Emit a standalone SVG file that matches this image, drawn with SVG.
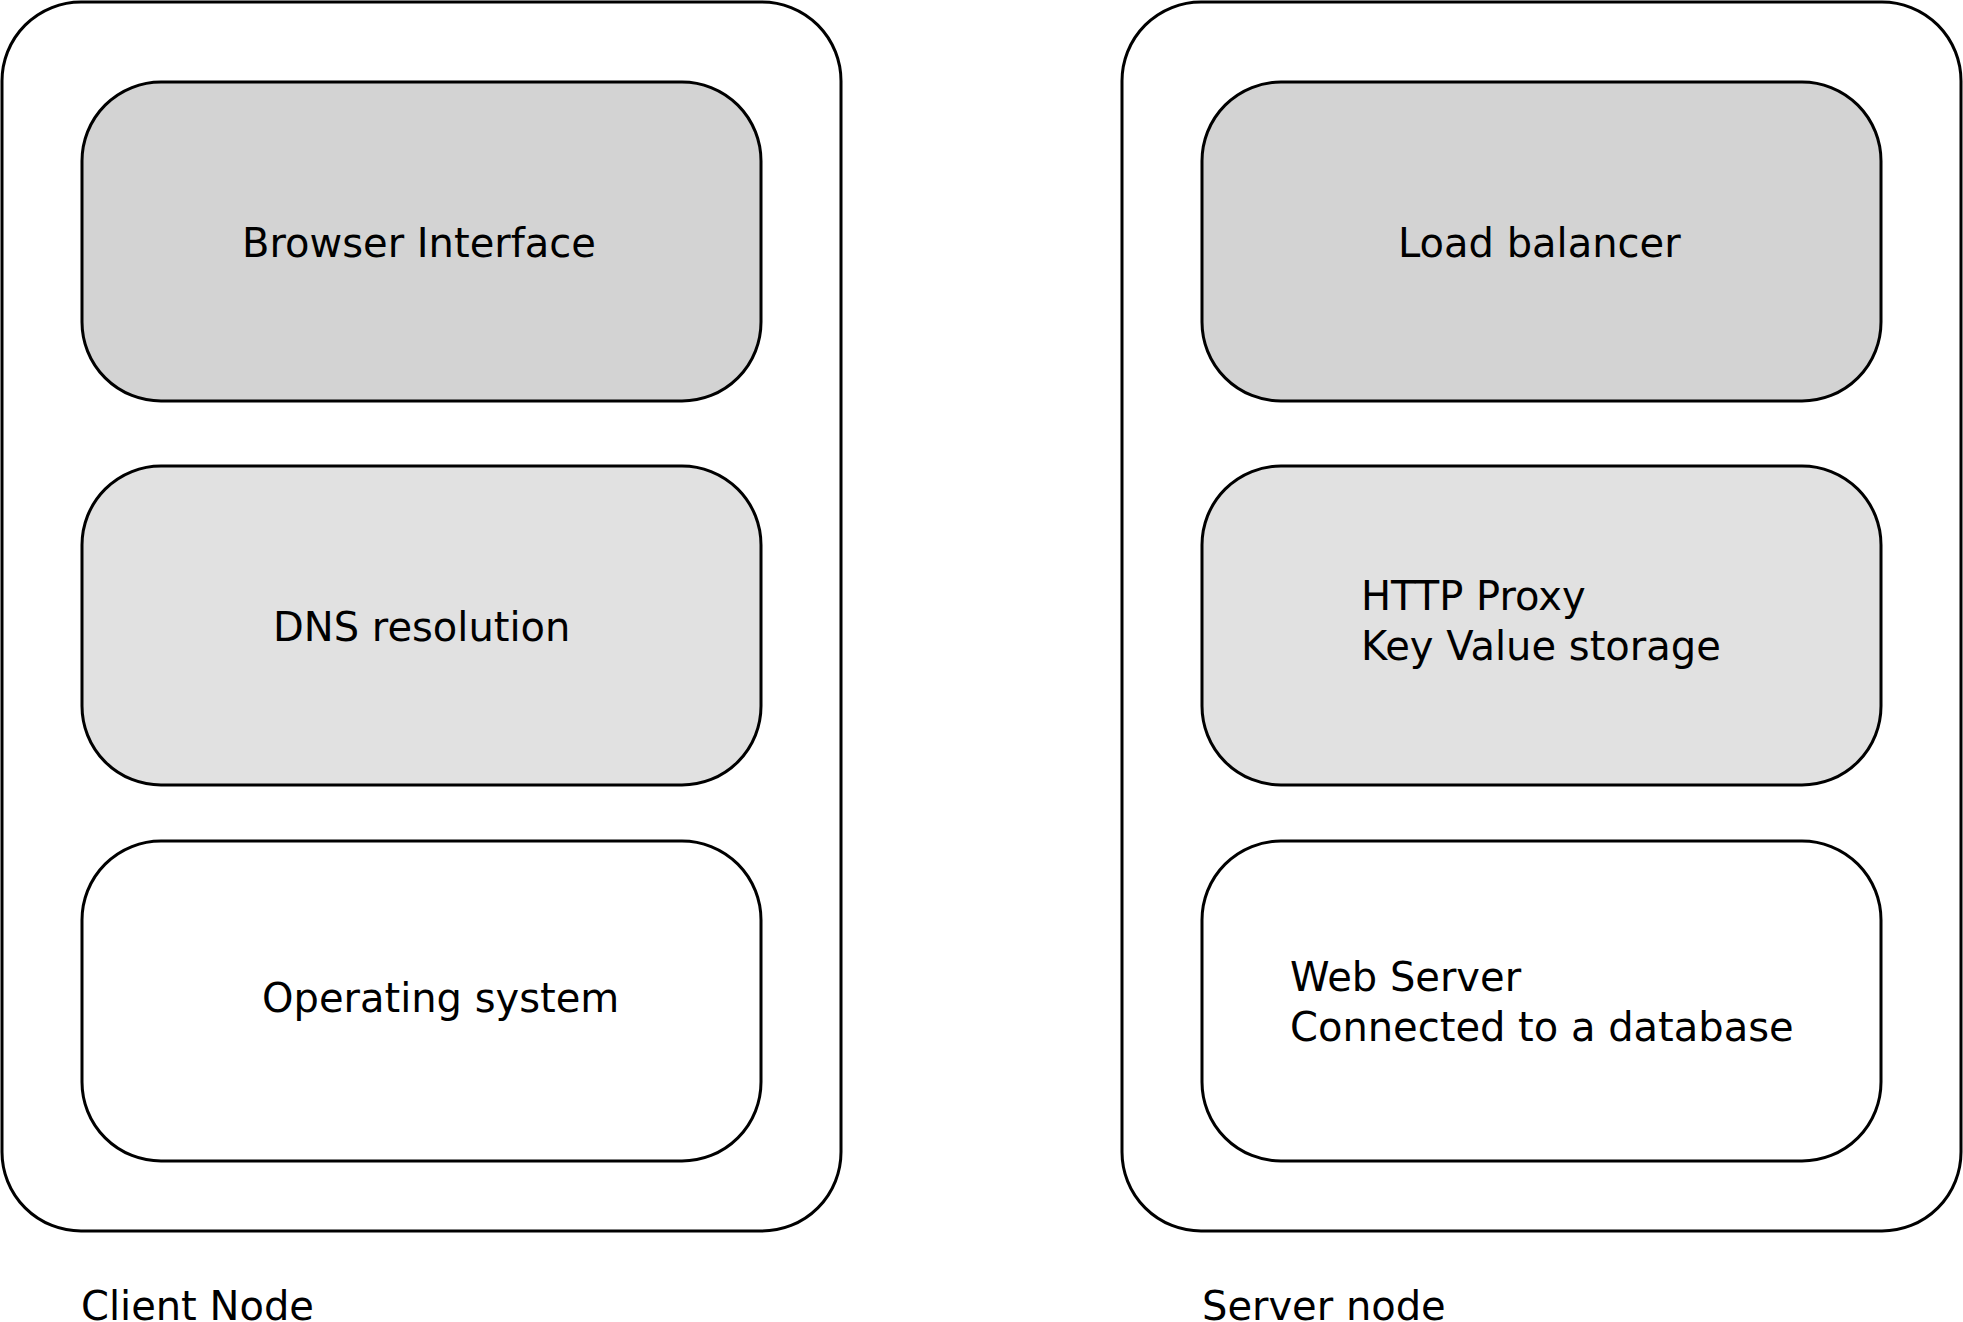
<svg xmlns="http://www.w3.org/2000/svg" width="1963" height="1322" viewBox="0 0 1963 1322">
<style>
.outer{fill:#ffffff;stroke:#000000;stroke-width:3}
.box{stroke:#000000;stroke-width:3}
.l1{fill:#d3d3d3}
.l2{fill:#e1e1e1}
.l3{fill:#ffffff}
text{font-family:"DejaVu Sans","Liberation Sans",sans-serif;font-size:40px;fill:#000000}
</style>
<rect width="1963" height="1322" fill="#ffffff"/>
<g id="client-node">
<rect class="outer" x="2" y="2" width="839" height="1229" rx="79" ry="79"/>
<text x="81" y="1320">Client Node</text>
</g>
<g id="browser-interface">
<rect class="box l1" x="82" y="82" width="679" height="319" rx="79" ry="79"/>
<text x="242" y="257">Browser Interface</text>
</g>
<g id="dns-resolution">
<rect class="box l2" x="82" y="466" width="679" height="319" rx="79" ry="79"/>
<text x="273" y="641">DNS resolution</text>
</g>
<g id="operating-system">
<rect class="box l3" x="82" y="841" width="679" height="320" rx="79" ry="79"/>
<text x="262" y="1012">Operating system</text>
</g>
<g id="server-node">
<rect class="outer" x="1122" y="2" width="839" height="1229" rx="79" ry="79"/>
<text x="1202" y="1320">Server node</text>
</g>
<g id="load-balancer">
<rect class="box l1" x="1202" y="82" width="679" height="319" rx="79" ry="79"/>
<text x="1398" y="257">Load balancer</text>
</g>
<g id="http-proxy">
<rect class="box l2" x="1202" y="466" width="679" height="319" rx="79" ry="79"/>
<text x="1361" y="610">HTTP Proxy</text>
<text x="1361" y="660">Key Value storage</text>
</g>
<g id="web-server">
<rect class="box l3" x="1202" y="841" width="679" height="320" rx="79" ry="79"/>
<text x="1290" y="991">Web Server</text>
<text x="1290" y="1041">Connected to a database</text>
</g>
<g id="connectors"></g>
</svg>
